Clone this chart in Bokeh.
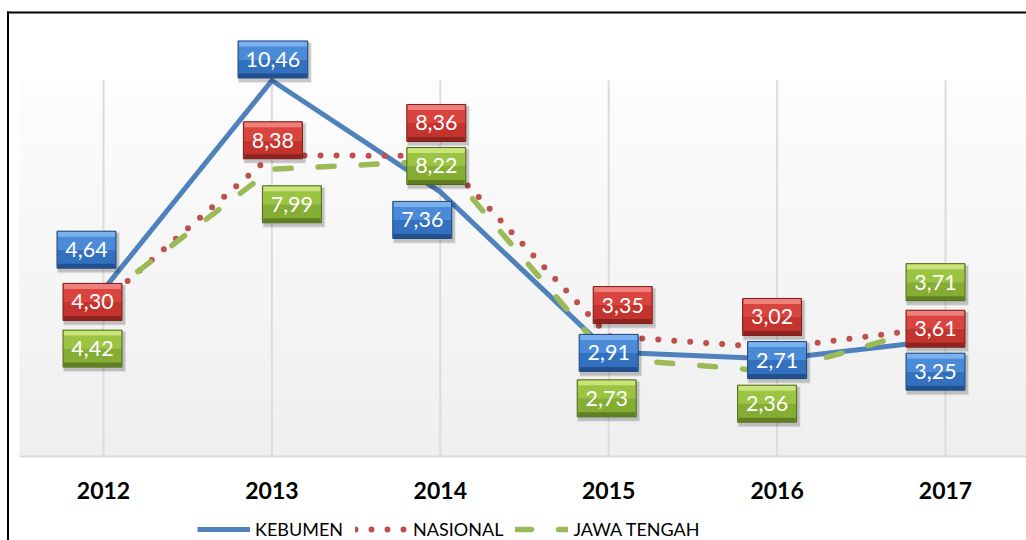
import numpy as np
from bokeh.plotting import figure
from bokeh.models import (Range1d, LinearAxis, FixedTicker, Legend, LegendItem)
from bokeh.core.properties import value
from bokeh.embed import file_html
from bokeh.resources import INLINE

# ---------------- data ----------------
years = ["2012", "2013", "2014", "2015", "2016", "2017"]
kebumen = [4.64, 10.46, 7.36, 2.91, 2.71, 3.25]
nasional = [4.30, 8.38, 8.36, 3.35, 3.02, 3.61]
jawa_tengah = [4.42, 7.99, 8.22, 2.73, 2.36, 3.71]
series_names = ["KEBUMEN", "NASIONAL", "JAWA TENGAH"]

# ---------------- layout ----------------
W, H = 1026, 540
PX_X = 168.4          # px per category
PX_Y = 35.95          # px per unit
LEFT_PX = 103         # canvas left -> first category
BOTTOM_PX = 84        # canvas bottom -> zero line
X0 = -LEFT_PX / PX_X
X1 = X0 + W / PX_X
Y0 = -BOTTOM_PX / PX_Y
Y1 = Y0 + H / PX_Y
PLOT_TOP = 10.46
BOX_H = 37
BORDER_LEFT_PX = 7.5
BORDER_TOP_PX = 12

# label offsets in screen px (dx right, dy down) per series
off_keb = [(-17, -40), (1, -21), (-18, 28), (0, 1), (0, 1), (-10, 32)]
off_nas = [(-11, 0), (1, -15), (-4, -33), (14, -31), (-5, -31), (-10, 2)]
off_jat = [(-11, 51), (20, 35), (-4, 5), (-2, 40), (-10, 32), (-10, -41)]

FONT = "Lato"

p = figure(width=W, height=H, x_range=Range1d(X0, X1), y_range=Range1d(Y0, Y1),
           output_backend="svg", toolbar_location=None,
           x_axis_location=None, y_axis_location=None,
           min_border_left=0, min_border_right=0, min_border_top=0,
           min_border_bottom=0)
p.outline_line_color = None
p.xgrid.visible = False
p.ygrid.visible = False
p.background_fill_color = "white"
p.border_fill_color = "white"

# gradient plot area
n_bands = 40
edges = np.linspace(0, PLOT_TOP, n_bands + 1)
c_bot = np.array([0xEF, 0xEF, 0xEF])
c_top = np.array([0xFD, 0xFD, 0xFD])
cols = []
for k in range(n_bands):
    t = (k + 0.5) / n_bands
    c = (c_bot + (c_top - c_bot) * t).astype(int)
    cols.append("#%02x%02x%02x" % tuple(c))
p.quad(left=-0.5, right=5.5, bottom=edges[:-1], top=edges[1:], fill_color=cols,
       line_color=None)

# vertical grid
xs = list(range(len(years)))
p.segment(x0=xs, x1=xs, y0=[0] * len(xs), y1=[PLOT_TOP] * len(xs),
          line_color="#dcdcdc", line_width=2)

# axis
ax = LinearAxis(fixed_location=0, ticker=FixedTicker(ticks=xs),
                major_label_overrides={i: y for i, y in enumerate(years)})
ax.bounds = (-0.5, 5.5)
ax.axis_line_color = "#d9d9d9"
ax.axis_line_width = 2
ax.major_tick_line_color = None
ax.minor_tick_line_color = None
ax.major_label_standoff = 19
ax.major_label_text_font = FONT
ax.major_label_text_font_style = "bold"
ax.major_label_text_font_size = "23px"
ax.major_label_text_color = "black"
p.add_layout(ax, "below")

# lines
r_keb = p.line(xs, kebumen, line_color="#4f81bd", line_width=5, line_join="round")
r_nas = p.line(xs, nasional, line_color="#c0504d", line_width=6, line_dash="0 16",
               line_cap="round", line_join="round")
r_jat = p.line(xs, jawa_tengah, line_color="#9bbb59", line_width=5.5, line_dash="16 27",
               line_cap="round", line_join="round")

# label boxes
styles = [
    # upper, lower, top bevel, bottom bevel, border
    ("#4a8ad6", "#3370be", "#7ab0ee", "#22508f", "#1d4578"),
    ("#d9443e", "#c4332e", "#ee7f7a", "#8e2420", "#7a1c19"),
    ("#9cc443", "#86ad33", "#c8e47a", "#5f7f22", "#4d6a18"),
]

def fmt(v):
    return ("%.2f" % v).replace(".", ",")

for vals, offs, st in zip([kebumen, nasional, jawa_tengah], [off_keb, off_nas, off_jat], styles):
    up, lo, tb, bb, bd = st
    cx = [i + dx / PX_X for i, (dx, dy) in zip(xs, offs)]
    cy = [v - dy / PX_Y for v, (dx, dy) in zip(vals, offs)]
    txt = [fmt(v) for v in vals]
    wd = [16 + 10.75 * len(t) for t in txt]
    # soft shadow
    for s, a in [(4, 0.08), (2, 0.15)]:
        p.rect([x + 2 / PX_X for x in cx], [y - 3 / PX_Y for y in cy], width=[w + s for w in wd],
               height=BOX_H + s, width_units="screen", height_units="screen",
               fill_color="black", fill_alpha=a, line_color=None)
    # body halves
    p.rect(cx, [y + (BOX_H / 4) / PX_Y for y in cy], width=wd, height=BOX_H / 2,
           width_units="screen", height_units="screen", fill_color=up, line_color=None)
    p.rect(cx, [y - (BOX_H / 4) / PX_Y for y in cy], width=wd, height=BOX_H / 2,
           width_units="screen", height_units="screen", fill_color=lo, line_color=None)
    # bevels
    p.rect(cx, [y + (BOX_H / 2 - 3) / PX_Y for y in cy], width=[w - 2 for w in wd], height=5,
           width_units="screen", height_units="screen", fill_color=tb, line_color=None)
    p.rect(cx, [y - (BOX_H / 2 - 2.5) / PX_Y for y in cy], width=[w - 2 for w in wd], height=4,
           width_units="screen", height_units="screen", fill_color=bb, line_color=None)
    # border
    p.rect(cx, cy, width=wd, height=BOX_H, width_units="screen", height_units="screen",
           fill_color=None, line_color=bd, line_width=1)
    p.text(cx, cy, text=txt, text_align="center", text_baseline="middle",
           text_color="white", text_font=value(FONT), text_font_size="21.5px")

# outer border (top and left)
bx = X0 + BORDER_LEFT_PX / PX_X
by = Y1 - BORDER_TOP_PX / PX_Y
p.segment(x0=[bx - 1 / PX_X, bx], y0=[by, by + 1 / PX_Y], x1=[X1, bx], y1=[by, Y0],
          line_color="black", line_width=2)

legend = Legend(items=[LegendItem(label=series_names[0], renderers=[r_keb]),
                       LegendItem(label=series_names[1], renderers=[r_nas]),
                       LegendItem(label=series_names[2], renderers=[r_jat])],
                orientation="horizontal", location=(197, 0))
legend.glyph_width = 53
legend.glyph_height = 20
legend.label_standoff = 5
legend.spacing = 12
legend.padding = 0
legend.margin = 0
legend.border_line_color = None
legend.background_fill_alpha = 0
legend.label_text_font = FONT
legend.label_text_font_size = "18px"
legend.label_text_color = "black"
p.add_layout(legend)

open("out.html", "w").write(file_html(p, INLINE))
